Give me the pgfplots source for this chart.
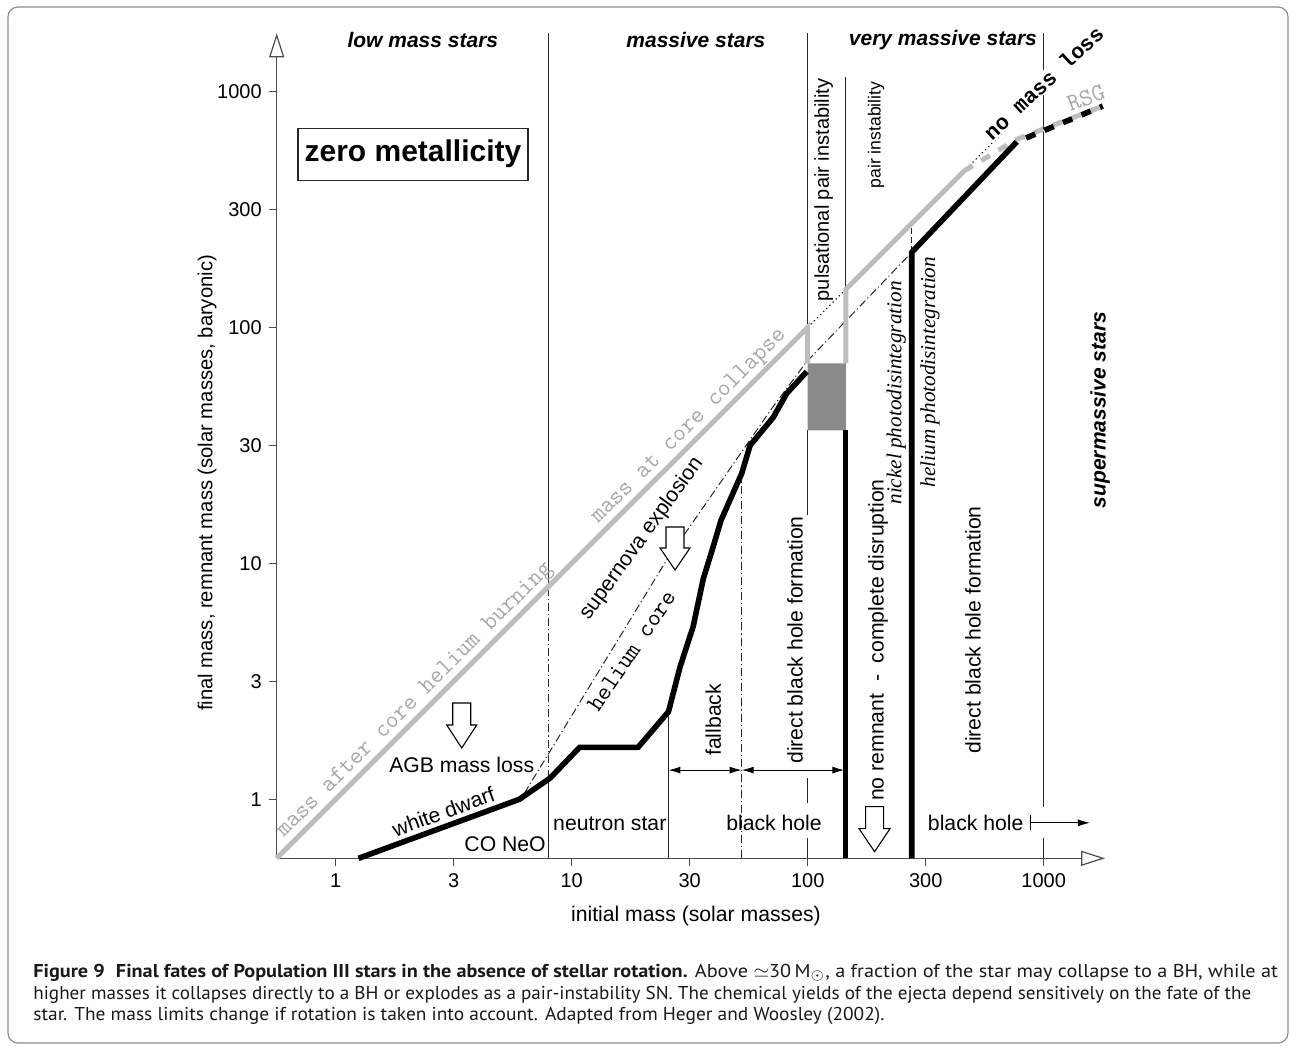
\documentclass[border=0pt]{standalone}
\usepackage{fontspec}
\setmainfont{Liberation Sans}
\newfontfamily\monofont{Liberation Mono}
\newfontfamily\serifit{Liberation Serif}
\newfontfamily\capfont{PT Sans}
\usepackage{graphicx}
\usepackage{pgfplots}
\pgfplotsset{compat=1.18}
\usetikzlibrary{arrows.meta}
\definecolor{lgray}{gray}{0.74}
\definecolor{tgray}{gray}{0.66}
\definecolor{boxgray}{gray}{0.54}
\newcommand\lab{\fontsize{10.6}{12}\selectfont}
\newcommand\ttl{\fontsize{10.5}{12}\selectfont\bfseries\itshape}
\newcommand\mon{\fontsize{12.3}{14}\selectfont\ttfamily}
\newcommand\capf{\capfont\fontsize{9.3}{10.6}\selectfont\color{black!90}}
\begin{document}
\begin{tikzpicture}
\begin{axis}[
  at={(0pt,0pt)}, anchor=south west,
  scale only axis, width=414.18pt, height=412.5pt,
  xmode=log, ymode=log,
  xmin=0.56234, xmax=1819.7, ymin=0.56234, ymax=1762,
  axis x line=bottom, axis y line=left,
  axis line style={draw=black!70, line width=0.6pt, -{Triangle[open, length=12pt, width=7.5pt]}},
  xtick={1,3.1623,10,31.623,100,316.23,1000},
  xticklabels={1,3,10,30,100,300,1000},
  ytick={1,3.1623,10,31.623,100,316.23,1000},
  yticklabels={1,3,10,30,100,300,1000},
  minor xtick={}, minor ytick={},
  tick align=outside, major tick length=4pt,
  tick style={draw=black!70, line width=0.5pt},
  tick label style={font=\fontsize{10}{12}\selectfont},
  clip=false,
  tl/.style={black!85, line width=0.5pt},
  dd/.style={black!85, line width=0.5pt, dash pattern=on 4pt off 1.5pt on 0.6pt off 1.5pt},
]
% ---- thin region boundaries
\addplot[tl] coordinates {(8,0.56234) (8,1.23)};
\addplot[dd] coordinates {(8,1.23) (8,8)};
\addplot[tl] coordinates {(8,8) (8,1762)};
\addplot[tl] coordinates {(25.7,0.56234) (25.7,2.35)};
\addplot[dd] coordinates {(52.5,0.56234) (52.5,24)};
\addplot[tl] coordinates {(100,1762) (100,100)};
\addplot[tl] coordinates {(100,36.6) (100,16)};
\addplot[tl] coordinates {(100,1.23) (100,0.965)};
\addplot[tl] coordinates {(100,0.686) (100,0.56234)};
\addplot[tl] coordinates {(145,1146) (145,145)};
\addplot[tl, dash pattern=on 2pt off 1pt] coordinates {(145,70.4) (145,36.6)};
\addplot[tl] coordinates {(1000,1762) (1000,0.93)};
\addplot[tl] coordinates {(1000,0.686) (1000,0.56234)};
% ---- no mass loss (dotted)
\addplot[black, line width=0.5pt, dash pattern=on 0.6pt off 1.6pt] coordinates {(100,100) (1762,1762)};
% ---- helium core
\addplot[dd] coordinates {(6.3,1.06) (25.2,10.3) (71.3,46.1) (99,71.5) (276,208)};
\addplot[tl, dash pattern=on 3pt off 1.5pt] coordinates {(276,208) (276,268)};
% ---- grey box
\addplot[fill=boxgray, draw=none] coordinates {(100,36.6) (145,36.6) (145,70.4) (100,70.4) (100,36.6)};
% ---- grey line: mass after He burning / at core collapse
\addplot[lgray, line width=2.5pt] coordinates {(0.56234,0.56234) (100,100) (100,70.4)};
\addplot[lgray, line width=2.5pt] coordinates {(145,70.4) (145,145) (460,460)};
\addplot[lgray, line width=2.5pt, dash pattern=on 5pt off 5pt] coordinates {(460,460) (769,626) (1780,866)};
% ---- black line: remnant mass
\addplot[black, line width=2.8pt] coordinates {(1.25,0.56234) (6.0,1.0) (8.1,1.23) (10.8,1.66) (19.1,1.66) (25.7,2.35) (28.8,3.65) (32.7,5.39) (36.1,8.6) (39.5,11.5) (42.9,15.2) (52.5,24) (57,31.6) (71.5,41.6) (81.5,52.5) (99,64.9)};
\addplot[black, line width=2.6pt] coordinates {(145,36.6) (145,0.56234)};
\addplot[black, line width=2.8pt] coordinates {(276,0.56234) (276,208) (769,611)};
\addplot[black, line width=2.8pt, dash pattern=on 5pt off 5pt, dash phase=5pt] coordinates {(769,611) (1780,866)};
% ---- arrows
\draw[black, line width=0.5pt, {Latex[length=6pt,width=3.5pt]}-{Latex[length=6pt,width=3.5pt]}] (25.7,1.33) -- (52.5,1.33);
\draw[black, line width=0.5pt, {Latex[length=6pt,width=3.5pt]}-{Latex[length=6pt,width=3.5pt]}] (52.5,1.33) -- (143,1.33);
\draw[black, line width=0.5pt, {Bar[width=7.5pt]}-{Latex[length=6pt,width=3.5pt]}] (875,0.795) -- (1570,0.795);
\draw[black, line width=0.55pt, fill=white, line join=miter] (3.42,1.65) -- ++(-7.5pt,11.5pt) -- ++(3pt,0pt) -- ++(0pt,11pt) -- ++(9pt,0pt) -- ++(0pt,-11pt) -- ++(3pt,0pt) -- cycle;
\draw[black, line width=0.55pt, fill=white, line join=miter] (27.4,9.37) -- ++(-7.5pt,11pt) -- ++(3pt,0pt) -- ++(0pt,10.5pt) -- ++(9pt,0pt) -- ++(0pt,-10.5pt) -- ++(3pt,0pt) -- cycle;
\draw[black, line width=0.55pt, fill=white, line join=miter] (192,0.60) -- ++(-7.75pt,11.5pt) -- ++(3.25pt,0pt) -- ++(0pt,11pt) -- ++(9pt,0pt) -- ++(0pt,-11pt) -- ++(3.25pt,0pt) -- cycle;
% ---- titles
\node[font=\ttl] at (2.34,1650) {low mass stars};
\node[font=\ttl] at (33.6,1650) {massive stars};
\node[font=\ttl] at (374,1650) {very massive stars};
\node[font=\ttl, rotate=90] at (1733,44.6) {supermassive stars};
\node[draw=black!85, line width=0.6pt, font=\fontsize{15}{18}\selectfont\bfseries, minimum width=115pt, minimum height=26pt, inner sep=0pt] at (2.126,542) {zero metallicity};
% ---- labels
\node[font=\lab] at (3.42,1.40) {AGB mass loss};
\node[font=\lab, rotate=20] at (2.86,0.886) {white dwarf};
\node[font=\lab] at (5.22,0.647) {CO NeO};
\node[font=\lab] at (14.5,0.791) {neutron star};
\node[font=\lab] at (72,0.791) {black hole};
\node[font=\lab] at (515,0.791) {black hole};
\node[font=\lab, rotate=90] at (39.8,2.17) {fallback};
\node[font=\lab, rotate=90] at (88.4,4.73) {direct black hole formation};
\node[font=\lab, rotate=90] at (198.6,4.73) {no remnant\ \ -\ \ complete disruption};
\node[font=\lab, rotate=90] at (502,5.22) {direct black hole formation};
\node[font=\fontsize{10}{12}\selectfont, rotate=90] at (117,382) {pulsational pair instability};
\node[font=\fontsize{8.8}{12}\selectfont, rotate=90] at (195,653) {pair instability};
\node[font=\serifit\itshape\fontsize{10.6}{12}\selectfont, rotate=90] at (237,52.7) {nickel photodisintegration};
\node[font=\serifit\itshape\fontsize{10.6}{12}\selectfont, rotate=90] at (330,64.7) {helium photodisintegration};
\node[font=\lab, rotate=54] at (19.8,12.7) {supernova explosion};
\node[font=\mon, rotate=56] at (17.9,4.26) {helium core};
\node[font=\mon, text=tgray, rotate=45] at (2.17,2.63) {mass after core helium burning};
\node[font=\mon, text=tgray, rotate=45] at (31.4,38.0) {mass at core collapse};
\node[font=\fontsize{10.75}{12}\selectfont\monofont\bfseries, rotate=43, fill=white, inner sep=0.6pt] at (998,1089) {no mass loss};
\node[font=\mon, text=tgray, rotate=20] at (1511,937) {RSG};
\node[font=\lab, anchor=base] at (33.6,0.303) {initial mass (solar masses)};
\node[font=\fontsize{10.1}{12}\selectfont, rotate=90] at (0.285,21.9) {final mass, remnant mass (solar masses, baryonic)};
\end{axis}
% ---- frame and caption
\draw[black!45, line width=0.6pt, rounded corners=5pt] (-134.35pt,-92.35pt) rectangle (505.65pt,425.65pt);
\node[anchor=base west, inner sep=0pt, font=\capf] at (-121.85pt,-59.35pt) {\resizebox{622.3pt}{\height}{\textbf{Figure 9\hspace{0.55em}Final fates of Population III stars in the absence of stellar rotation.} Above $\simeq$30\,M$_{\odot}$, a fraction of the star may collapse to a BH, while at}};
\node[anchor=base west, inner sep=0pt, font=\capf] at (-121.85pt,-70.5pt) {\resizebox{608.9pt}{\height}{higher masses it collapses directly to a BH or explodes as a pair-instability SN. The chemical yields of the ejecta depend sensitively on the fate of the}};
\node[anchor=base west, inner sep=0pt, font=\capf] at (-121.85pt,-80.85pt) {\resizebox{425.5pt}{\height}{star. The mass limits change if rotation is taken into account. Adapted from Heger and Woosley (2002).}};
\pgfresetboundingbox
\path[use as bounding box] (-138.35pt,-93.35pt) rectangle (508.15pt,429.15pt);
\end{tikzpicture}
\end{document}
